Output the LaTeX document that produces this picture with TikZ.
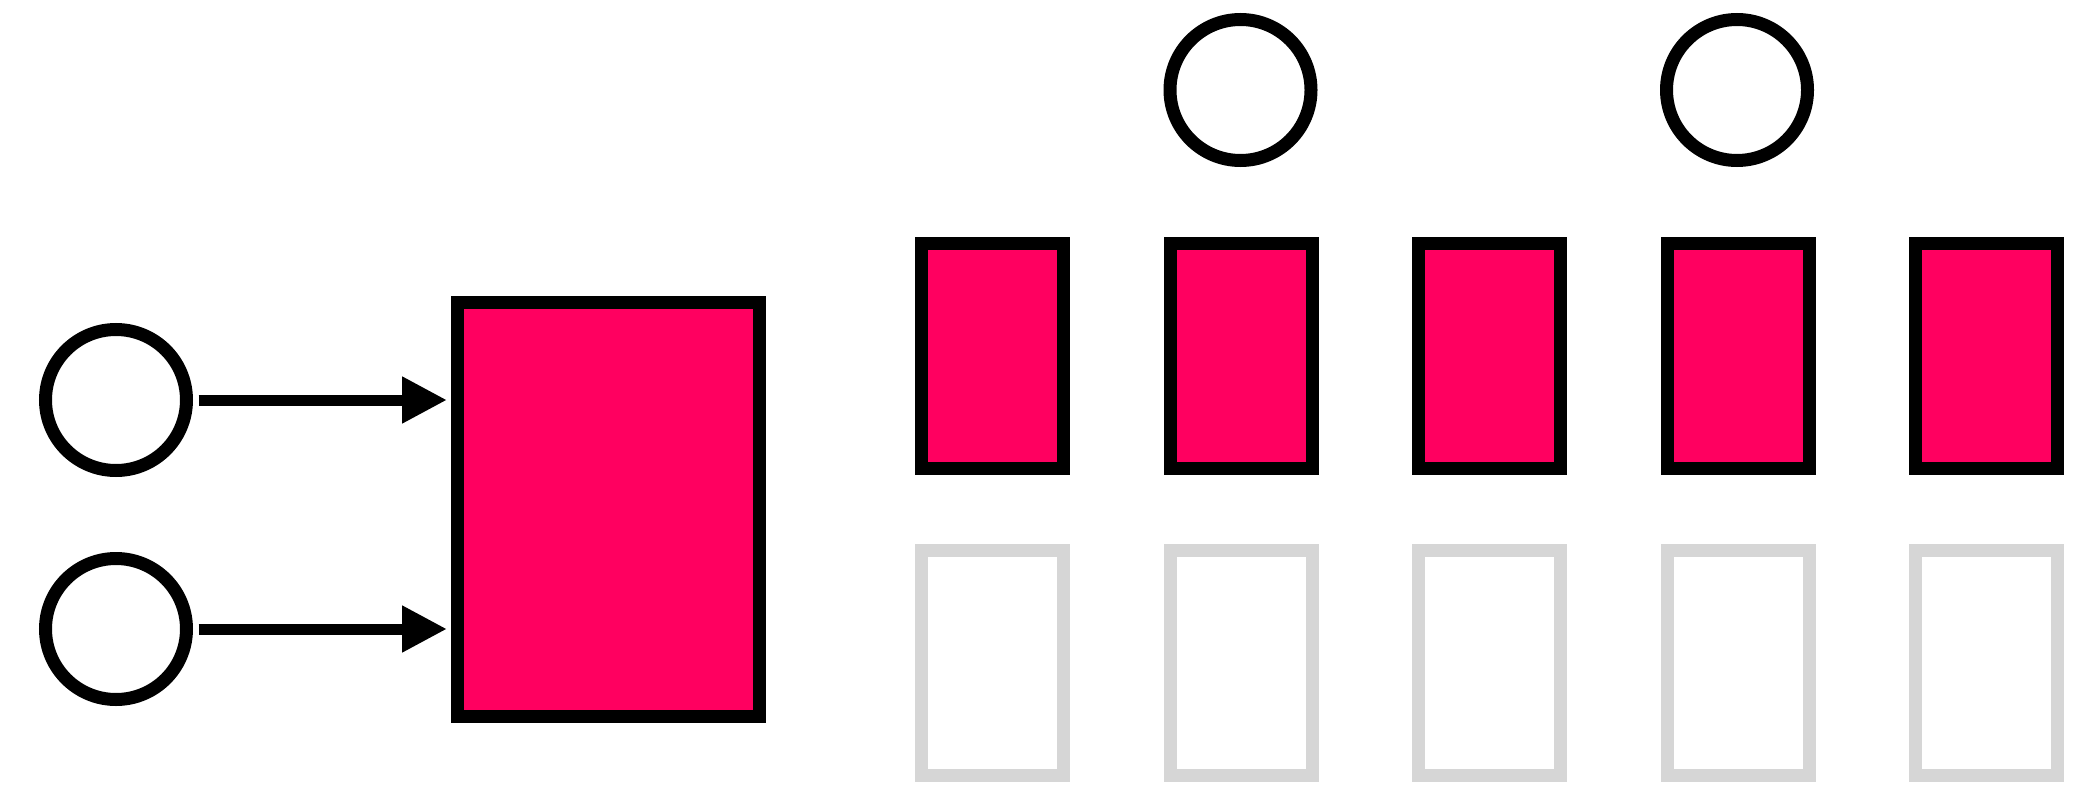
\documentclass[tikz,border=0pt]{standalone}
\usetikzlibrary{arrows.meta}
\definecolor{pinkfill}{HTML}{FF0060}
\definecolor{boxgray}{HTML}{D6D6D6}
\begin{document}
\begin{tikzpicture}[x=1pt,y=-1pt,
  ring/.style={circle, draw=black, fill=white, line width=13pt, minimum size=141pt, inner sep=0pt},
  bigbox/.style={rectangle, draw=black, fill=pinkfill, line width=13pt, minimum width=302pt, minimum height=414pt, inner sep=0pt},
  slot/.style={rectangle, draw=black, fill=pinkfill, line width=13pt, minimum width=142pt, minimum height=225pt, inner sep=0pt},
  emptyslot/.style={slot, draw=boxgray, fill=white},
  link/.style={line width=11pt, -{Triangle[length=45pt,width=44pt]}, shorten <=5.5pt, shorten >=4pt}]
\useasboundingbox (0,0) rectangle (2080,789);
\node[ring] (c1) at (116,400) {};
\node[ring] (c2) at (116,629) {};
\node[bigbox] (big) at (608.5,509.5) {};
\foreach \i in {0,...,4} {
  \node[slot] (s\i) at (992.5+248.5*\i,356) {};
  \node[emptyslot] (e\i) at (992.5+248.5*\i,662.5) {};
}
\node[ring] (t1) at (1240.5,90) {};
\node[ring] (t2) at (1737,90) {};
\draw[link] (c1.east) -- (c1.east -| big.west);
\draw[link] (c2.east) -- (c2.east -| big.west);
\end{tikzpicture}
\end{document}
